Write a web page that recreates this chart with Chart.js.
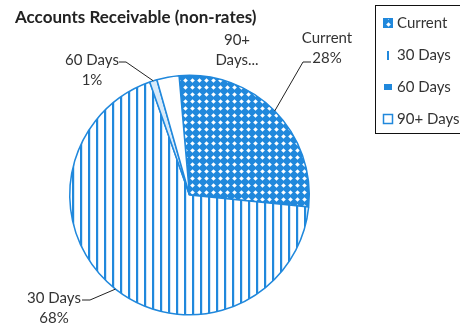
<!DOCTYPE html>
<html>
<head>
<meta charset="utf-8">
<script src="https://cdn.jsdelivr.net/npm/chart.js@4"></script>
<style>
  html, body { margin: 0; padding: 0; background: #fff; }
  canvas { display: block; }
</style>
</head>
<body>
<canvas id="graficoAR" width="460" height="326"></canvas>
<script>
const categorias = ["Current", "30 Days", "60 Days", "90+ Days"];
const percentuais = [28, 68, 1, 3];
// texto dos rótulos de cada fatia (o de 90+ aparece cortado)
const rotulos = [
  ["Current", percentuais[0] + "%"],
  ["30 Days", percentuais[1] + "%"],
  ["60 Days", percentuais[2] + "%"],
  ["90+", "Days..."],
];

const AZUL = "#2088dc";
const FONTE = "Lato, 'Open Sans', sans-serif";

function padraoTela(w, h, desenha) {
  const c = document.createElement("canvas");
  c.width = w;
  c.height = h;
  desenha(c.getContext("2d"));
  return c.getContext("2d").createPattern(c, "repeat");
}

// malha azul com losangos brancos
const padraoCurrent = padraoTela(7, 7, (g) => {
  g.fillStyle = AZUL;
  g.fillRect(0, 0, 7, 7);
  g.fillStyle = "#fff";
  g.beginPath();
  g.moveTo(3.5, 1.2);
  g.lineTo(5.8, 3.5);
  g.lineTo(3.5, 5.8);
  g.lineTo(1.2, 3.5);
  g.closePath();
  g.fill();
});

// listras verticais
const padraoListras = padraoTela(8, 8, (g) => {
  g.fillStyle = "#fff";
  g.fillRect(0, 0, 8, 8);
  g.fillStyle = AZUL;
  g.fillRect(0, 0, 2.2, 8);
});

const preenchimentos = [padraoCurrent, padraoListras, "#d8eaf9", "#fff"];

// posições dos rótulos e das linhas guia
const posRotulos = [
  { x: 327, y: 38, linha: [[311, 62], [303, 62]] },
  { x: 54, y: 298, linha: [[82, 300], [90, 300]] },
  { x: 92, y: 60, linha: [[119, 62], [126, 62]] },
  { x: 237, y: 40, linha: null },
];

const rotulosPlugin = {
  id: "rotulosFatias",
  afterDatasetsDraw(chart) {
    const ctx = chart.ctx;
    const arcos = chart.getDatasetMeta(0).data;
    ctx.save();
    ctx.font = "15px " + FONTE;
    ctx.fillStyle = "#333";
    ctx.textAlign = "center";
    ctx.textBaseline = "middle";
    arcos.forEach((arco, i) => {
      const p = arco.getProps(["x", "y", "startAngle", "endAngle", "outerRadius"], true);
      const meio = (p.startAngle + p.endAngle) / 2;
      const pos = posRotulos[i];
      ctx.fillText(rotulos[i][0], pos.x, pos.y);
      ctx.fillText(rotulos[i][1], pos.x, pos.y + 20);
      if (pos.linha) {
        ctx.strokeStyle = "#222";
        ctx.lineWidth = 1;
        ctx.beginPath();
        ctx.moveTo(pos.linha[0][0], pos.linha[0][1]);
        ctx.lineTo(pos.linha[1][0], pos.linha[1][1]);
        ctx.lineTo(p.x + Math.cos(meio) * p.outerRadius, p.y + Math.sin(meio) * p.outerRadius);
        ctx.stroke();
      }
    });

    // título
    ctx.textAlign = "left";
    ctx.fillStyle = "#222";
    ctx.font = "bold 17px " + FONTE;
    ctx.fillText("Accounts Receivable (non-rates)", 15, 18);

    // legenda
    ctx.strokeStyle = "#111";
    ctx.lineWidth = 1;
    ctx.strokeRect(375.5, 5.5, 100, 128);
    ctx.font = "15px " + FONTE;
    categorias.forEach((nome, i) => {
      const y = 23 + i * 32;
      if (i === 0) {
        ctx.fillStyle = padraoCurrent;
        ctx.fillRect(383, y - 5, 10, 10);
        ctx.strokeStyle = AZUL;
        ctx.lineWidth = 1;
        ctx.strokeRect(383.5, y - 4.5, 9, 9);
      } else if (i === 1) {
        ctx.fillStyle = AZUL;
        ctx.fillRect(387, y - 4, 2, 9);
      } else if (i === 2) {
        ctx.fillStyle = AZUL;
        ctx.fillRect(384, y - 3, 8, 6);
      } else {
        ctx.strokeStyle = AZUL;
        ctx.lineWidth = 1.5;
        ctx.strokeRect(383.5, y - 4.5, 9, 9);
      }
      ctx.fillStyle = "#333";
      ctx.fillText(nome, 397, y);
    });
    ctx.restore();
  },
};

new Chart(document.getElementById("graficoAR"), {
  type: "pie",
  data: {
    labels: categorias,
    datasets: [
      {
        data: percentuais,
        backgroundColor: preenchimentos,
        borderColor: AZUL,
        borderWidth: 1.5,
      },
    ],
  },
  options: {
    responsive: false,
    animation: false,
    rotation: -5,
    layout: { padding: { left: 69, right: 150, top: 74, bottom: 10 } },
    plugins: {
      legend: { display: false },
      tooltip: { enabled: false },
    },
  },
  plugins: [rotulosPlugin],
});
</script>
</body>
</html>
